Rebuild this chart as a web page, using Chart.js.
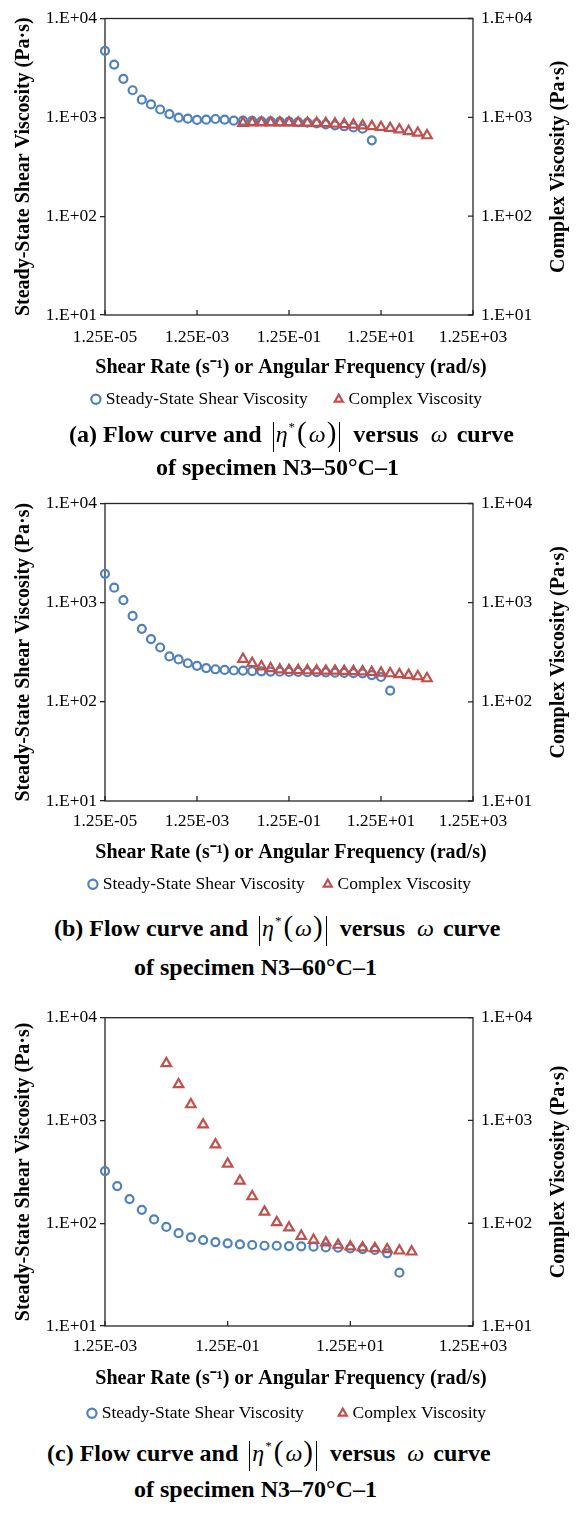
<!DOCTYPE html>
<html>
<head>
<meta charset="utf-8">
<script src="https://cdn.jsdelivr.net/npm/chart.js@4.4.0/dist/chart.umd.min.js"></script>
<style>
body{margin:0;background:#fff;}
#page{position:relative;width:577px;height:1525px;overflow:hidden;font-family:'Liberation Serif','Times New Roman',serif;color:#000;}
#page canvas{position:absolute;left:0;}
.cap{position:absolute;white-space:nowrap;font-weight:bold;font-size:24px;line-height:36px;}
.cap i{font-weight:normal;display:inline-block;}
.cap .bar{display:inline-block;width:0;height:30px;border-left:1.2px solid #000;vertical-align:-9.7px;}
.cap .par{font-weight:normal;font-size:29px;display:inline-block;}
.cap sup{font-size:13px;font-weight:normal;vertical-align:11px;line-height:0;margin-left:1px;}
</style>
</head>
<body>
<div id="page">
<canvas id="chartA" width="577" height="418" style="top:0px"></canvas>
<canvas id="chartB" width="577" height="418" style="top:485px"></canvas>
<canvas id="chartC" width="577" height="437" style="top:995px"></canvas>

<div class="cap" style="left:69px;top:414px">(a) Flow curve and <span class="bar" style="margin-left:5px"></span><i style="margin-left:2px">η</i><sup>*</sup><span class="par" style="margin-left:2px">(</span><i style="margin-left:2px">ω</i><span class="par" style="margin-left:1px">)</span><span class="bar" style="margin-left:3px"></span> <span style="margin-left:7px">versus</span> <i style="margin-left:6px">ω</i> <span style="margin-left:3px">curve</span></div>
<div class="cap" style="left:156px;top:449px">of specimen N3–50°C–1</div>

<div class="cap" style="left:54px;top:908px">(b) Flow curve and <span class="bar" style="margin-left:5px"></span><i style="margin-left:2px">η</i><sup>*</sup><span class="par" style="margin-left:2px">(</span><i style="margin-left:2px">ω</i><span class="par" style="margin-left:1px">)</span><span class="bar" style="margin-left:3px"></span> <span style="margin-left:7px">versus</span> <i style="margin-left:6px">ω</i> <span style="margin-left:3px">curve</span></div>
<div class="cap" style="left:134px;top:949px">of specimen N3–60°C–1</div>

<div class="cap" style="left:47px;top:1433px">(c) Flow curve and <span class="bar" style="margin-left:5px"></span><i style="margin-left:2px">η</i><sup>*</sup><span class="par" style="margin-left:2px">(</span><i style="margin-left:2px">ω</i><span class="par" style="margin-left:1px">)</span><span class="bar" style="margin-left:3px"></span> <span style="margin-left:7px">versus</span> <i style="margin-left:6px">ω</i> <span style="margin-left:3px">curve</span></div>
<div class="cap" style="left:134px;top:1471px">of specimen N3–70°C–1</div>
</div>

<script>
// shear rate (1/s) for the steady-state runs
var shearRateA = [1.25e-5, 1.98e-5, 3.14e-5, 4.98e-5, 7.89e-5,
                  1.25e-4, 1.98e-4, 3.14e-4, 4.98e-4, 7.89e-4,
                  1.25e-3, 1.98e-3, 3.14e-3, 4.98e-3, 7.89e-3,
                  0.0125, 0.0198, 0.0314, 0.0498, 0.0789,
                  0.125, 0.198, 0.314, 0.498, 0.789,
                  1.25, 1.98, 3.14, 4.98, 7.89];
var steadyViscA = [4710, 3420, 2450, 1880, 1510, 1350, 1200, 1080, 993, 970,
                   941, 948, 962, 948, 926, 926, 920, 913, 913, 906,
                   906, 895, 884, 870, 850, 831, 812, 790, 768, 585];

var shearRateB = [1.25e-5, 1.98e-5, 3.14e-5, 4.98e-5, 7.89e-5,
                  1.25e-4, 1.98e-4, 3.14e-4, 4.98e-4, 7.89e-4,
                  1.25e-3, 1.98e-3, 3.14e-3, 4.98e-3, 7.89e-3,
                  0.0125, 0.0198, 0.0314, 0.0498, 0.0789,
                  0.125, 0.198, 0.314, 0.498, 0.789,
                  1.25, 1.98, 3.14, 4.98, 7.89, 12.5, 19.8];
var steadyViscB = [1955, 1415, 1060, 735, 545, 429, 353, 287, 268, 245,
                   231, 219, 213, 210, 207, 206, 204, 203, 202, 201,
                   200, 200, 199, 199, 198, 197, 196, 195, 194, 186, 178, 130];

var shearRateC = [0.00125, 0.00198, 0.00314, 0.00498, 0.00789,
                  0.0125, 0.0198, 0.0314, 0.0498, 0.0789,
                  0.125, 0.198, 0.314, 0.498, 0.789,
                  1.25, 1.98, 3.14, 4.98, 7.89,
                  12.5, 19.8, 31.4, 49.8, 78.9];
var steadyViscC = [322, 230, 172, 135, 109, 92, 80, 73, 68.6, 65.6,
                   63.7, 62.3, 61.4, 60.4, 60.4, 60.0, 59.6, 59.1, 58.2, 57.8,
                   56.9, 56.1, 54.9, 51, 33];

// angular frequency (rad/s) for the oscillatory runs
var angularFreq = [0.0125, 0.0198, 0.0314, 0.0498, 0.0789,
                   0.125, 0.198, 0.314, 0.498, 0.789,
                   1.25, 1.98, 3.14, 4.98, 7.89,
                   12.5, 19.8, 31.4, 49.8, 78.9, 125];
var complexViscA = [875, 885, 885, 885, 885, 883, 880, 878, 875, 870,
                    860, 850, 840, 825, 810, 795, 776, 750, 722, 695, 655];
var complexViscB = [270, 245, 227, 217, 211, 209, 208, 207, 206, 205,
                    205, 204, 203, 202, 199, 196, 193, 189, 186, 180, 172];
var complexViscC = [3590, 2240, 1430, 910, 582, 378, 258, 182, 129, 102,
                    90.5, 75, 68.6, 64.8, 61.4, 59.1, 57.8, 56.9, 55.6, 54, 52.8];

var xTicksAB = [1.25e-5, 1.25e-3, 1.25e-1, 1.25e1, 1.25e3];
var xTickLabelsAB = ['1.25E-05', '1.25E-03', '1.25E-01', '1.25E+01', '1.25E+03'];
var xTicksC = [1.25e-3, 1.25e-1, 1.25e1, 1.25e3];
var xTickLabelsC = ['1.25E-03', '1.25E-01', '1.25E+01', '1.25E+03'];
var yTicks = [10, 100, 1000, 10000];
var yTickLabels = ['1.E+01', '1.E+02', '1.E+03', '1.E+04'];

var FONT = "'Liberation Serif', 'Times New Roman', serif";
var BLUE = '#4F81BD', RED = '#C0504D', AXIS = '#262626';

Chart.defaults.font.family = FONT;
Chart.defaults.color = '#000';

// box around the plot, inward ticks on bottom and right, x title and right-hand title
// (titles drawn here so they are not squeezed to the plot width)
var framePlugin = {
    id: 'frame',
    beforeDatasetsDraw: function(chart){
        var ctx = chart.ctx, a = chart.chartArea, sx = chart.scales.x, sy = chart.scales.y2;
        ctx.save();
        ctx.strokeStyle = AXIS;
        ctx.lineWidth = 1.3;
        ctx.strokeRect(a.left, a.top, a.right - a.left, a.bottom - a.top);
        ctx.beginPath();
        sx.ticks.forEach(function(t){
            var px = sx.getPixelForValue(t.value);
            ctx.moveTo(px, a.bottom); ctx.lineTo(px, a.bottom - 5);
        });
        sy.ticks.forEach(function(t){
            var py = sy.getPixelForValue(t.value);
            ctx.moveTo(a.right, py); ctx.lineTo(a.right - 5, py);
        });
        ctx.stroke();
        ctx.restore();
    },
    afterDraw: function(chart, args, opts){
        var ctx = chart.ctx, a = chart.chartArea;
        ctx.save();
        ctx.fillStyle = '#000';
        ctx.textAlign = 'center';
        ctx.textBaseline = 'middle';
        ctx.font = 'bold 20px ' + FONT;
        ctx.fillText(opts.xTitle, opts.xTitleX, opts.xTitleY);
        ctx.translate(opts.yTitleX, (a.top + a.bottom) / 2);
        ctx.rotate(-Math.PI / 2);
        ctx.fillText(opts.yTitle, 0, 0);
        ctx.restore();
    }
};

function makePanel(id, L, rate, steady, complex, xTicks, xLabels){
    var H = document.getElementById(id).height;
    var legendTop = H - (27.5 + L.legendPad);
    var chartTop = L.chartTop - L.top, chartBottom = L.chartBottom - L.top;
    var labelY = L.labelY - L.top, titleY = L.titleY - L.top;

    new Chart(document.getElementById(id).getContext('2d'), {
        type: 'scatter',
        data: {
            datasets: [
                {
                    label: 'Steady-State Shear Viscosity',
                    data: rate.map(function(x, i){ return {x: x, y: steady[i]}; }),
                    yAxisID: 'y',
                    order: 1,
                    pointStyle: 'circle',
                    pointRadius: 4,
                    pointBorderWidth: 2.2,
                    borderWidth: 2.2,
                    pointBorderColor: BLUE,
                    borderColor: BLUE,
                    pointBackgroundColor: 'rgba(0,0,0,0)',
                    backgroundColor: 'rgba(0,0,0,0)',
                    clip: false
                },
                {
                    label: 'Complex Viscosity',
                    data: angularFreq.map(function(x, i){ return {x: x, y: complex[i]}; }),
                    yAxisID: 'y2',
                    order: 0,
                    pointStyle: 'triangle',
                    pointRadius: 5.5,
                    pointBorderWidth: 2.2,
                    borderWidth: 2.2,
                    pointBorderColor: RED,
                    borderColor: RED,
                    pointBackgroundColor: 'rgba(0,0,0,0)',
                    backgroundColor: 'rgba(0,0,0,0)',
                    clip: false
                }
            ]
        },
        options: {
            responsive: false,
            animation: false,
            devicePixelRatio: 1,
            events: [],
            layout: {padding: {top: chartTop, right: L.padRight, bottom: 0, left: 0}},
            scales: {
                x: {
                    type: 'logarithmic',
                    position: 'bottom',
                    min: xTicks[0],
                    max: xTicks[xTicks.length - 1],
                    afterBuildTicks: function(s){ s.ticks = xTicks.map(function(v){ return {value: v}; }); },
                    afterFit: function(s){ s.height = legendTop - chartBottom; },
                    ticks: {
                        autoSkip: false, maxRotation: 0, minRotation: 0,
                        padding: labelY - chartBottom - 10.5,
                        font: {size: 17.5},
                        callback: function(v, i){ return xLabels[i]; }
                    },
                    grid: {display: false, drawTicks: false},
                    border: {display: false}
                },
                y: {
                    type: 'logarithmic',
                    position: 'left',
                    min: 10, max: 10000,
                    afterBuildTicks: function(s){ s.ticks = yTicks.map(function(v){ return {value: v}; }); },
                    afterFit: function(s){ s.width = 105; },
                    ticks: {padding: 3, font: {size: 17.5}, callback: function(v, i){ return yTickLabels[i]; }},
                    grid: {display: true, drawOnChartArea: false, drawTicks: true, tickLength: 5, color: AXIS, lineWidth: 1.3},
                    border: {display: false},
                    title: {
                        display: true,
                        text: 'Steady-State Shear Viscosity (Pa\u00B7s)',
                        font: {size: 20, weight: 'bold'},
                        padding: {top: 12, bottom: 0}
                    }
                },
                y2: {
                    type: 'logarithmic',
                    position: 'right',
                    min: 10, max: 10000,
                    afterBuildTicks: function(s){ s.ticks = yTicks.map(function(v){ return {value: v}; }); },
                    afterFit: function(s){ s.width = 577 - 473 - L.padRight; },
                    ticks: {padding: 8, font: {size: 17.5}, callback: function(v, i){ return yTickLabels[i]; }},
                    grid: {display: false, drawTicks: false},
                    border: {display: false}
                }
            },
            plugins: {
                tooltip: {enabled: false},
                legend: {
                    position: 'bottom',
                    labels: {
                        usePointStyle: true,
                        boxWidth: 2,
                        boxHeight: 6.5,
                        padding: L.legendPad,
                        font: {size: 17.5},
                        color: '#000',
                        sort: function(a, b){ return a.datasetIndex - b.datasetIndex; }
                    }
                },
                frame: {
                    xTitle: 'Shear Rate (s\u207B\u00B9) or Angular Frequency (rad/s)',
                    xTitleX: 291, xTitleY: titleY,
                    yTitle: 'Complex Viscosity (Pa\u00B7s)', yTitleX: 559
                }
            }
        },
        plugins: [framePlugin]
    });
}

makePanel('chartA', {top: 0, chartTop: 17, chartBottom: 315, labelY: 337.7, titleY: 368.3, legendPad: 30, padRight: 0},
          shearRateA, steadyViscA, complexViscA, xTicksAB, xTickLabelsAB);
makePanel('chartB', {top: 485, chartTop: 502, chartBottom: 801, labelY: 821.7, titleY: 853.3, legendPad: 22, padRight: 14},
          shearRateB, steadyViscB, complexViscB, xTicksAB, xTickLabelsAB);
makePanel('chartC', {top: 995, chartTop: 1017.7, chartBottom: 1326, labelY: 1346.7, titleY: 1379.3, legendPad: 38, padRight: 0},
          shearRateC, steadyViscC, complexViscC, xTicksC, xTickLabelsC);
</script>
</body>
</html>
